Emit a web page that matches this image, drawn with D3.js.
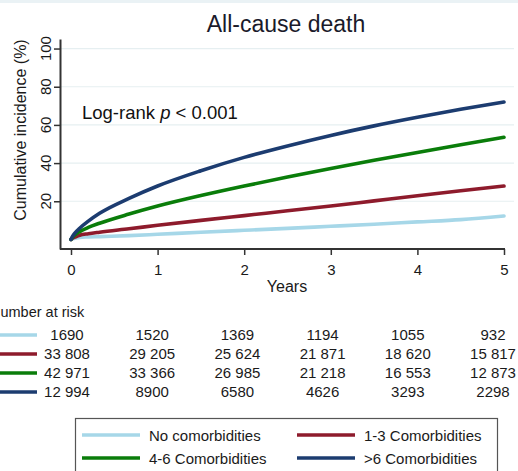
<!DOCTYPE html>
<html>
<head>
<meta charset="UTF-8">
<title>All-cause death</title>
<style>
  body { margin: 0; background: #fff; }
  svg { display: block; font-family: "Liberation Sans", Arial, sans-serif; }
</style>
</head>
<body>
<script src="https://d3js.org/d3.v7.min.js"></script>
<script>
// data
var years = [0, 0.03, 0.05, 0.1, 0.2, 0.33, 0.67, 1, 1.5, 2, 2.5, 3, 3.5, 4, 4.5, 5];
var noneInc = [0, 0.5, 0.7, 1.1, 1.3, 1.5, 2.0, 2.7, 3.8, 4.8, 5.8, 6.9, 8.0, 9.2, 10.4, 12.3];
var c13Inc  = [0, 0.9, 1.3, 2.2, 3.0, 3.8, 5.6, 7.4, 10.0, 12.5, 15.0, 17.5, 20.2, 22.9, 25.5, 28.0];
var c46Inc  = [0, 1.8, 2.6, 4.1, 6.3, 8.5, 13.3, 17.5, 23.0, 28.0, 32.7, 37.2, 41.5, 45.6, 49.6, 53.5];
var c6Inc   = [0, 2.4, 3.6, 5.9, 9.6, 13.7, 21.5, 28.0, 36.0, 43.0, 49.0, 54.5, 59.5, 64.0, 68.2, 72.0];

var riskYears = [0, 1, 2, 3, 4, 5];
var riskNone = [1690, 1520, 1369, 1194, 1055, 932];
var risk13   = [33808, 29205, 25624, 21871, 18620, 15817];
var risk46   = [42971, 33366, 26985, 21218, 16553, 12873];
var risk6    = [12994, 8900, 6580, 4626, 3293, 2298];

var groupNames = ["No comorbidities", "1-3 Comorbidities", "4-6 Comorbidities", ">6 Comorbidities"];
var groupColors = ["#a6d7e8", "#8e1b2c", "#0a7d0a", "#1c3c70"];
var xTicks = [0, 1, 2, 3, 4, 5];
var yTicks = [20, 40, 60, 80, 100];

var W = 518, H = 471;
var svg = d3.select("body").append("svg").attr("width", W).attr("height", H);

// faint strip along the top edge
svg.append("rect").attr("x", 0).attr("y", 0).attr("width", W).attr("height", 3).attr("fill", "#eaf2f5");

var x = d3.scaleLinear().domain([0, 5]).range([71, 504]);
var y = d3.scaleLinear().domain([-5, 105]).range([249, 39]);
var xRisk = d3.scaleLinear().domain([0, 5]).range([67, 493]);

// gridlines
svg.append("g").selectAll("line").data(yTicks).join("line")
  .attr("x1", 61).attr("x2", 514)
  .attr("y1", d => y(d)).attr("y2", d => y(d))
  .attr("stroke", "#e6eff1").attr("stroke-width", 1.2);

// y axis
var yAxis = svg.append("g").attr("transform", "translate(60,0)")
  .call(d3.axisLeft(y).tickValues(yTicks).tickSize(6).tickSizeOuter(0));
yAxis.select(".domain").attr("stroke", "#333").attr("stroke-width", 2);
yAxis.selectAll(".tick line").attr("stroke", "#333").attr("stroke-width", 1.5);
yAxis.selectAll(".tick text").remove();
svg.append("g").selectAll("text").data(yTicks).join("text")
  .attr("transform", d => "translate(51," + y(d) + ") rotate(-90)")
  .attr("text-anchor", "middle")
  .attr("font-size", 15).attr("fill", "#1a1a1a")
  .text(d => d);

// x axis
var xAxis = svg.append("g").attr("transform", "translate(0,249)")
  .call(d3.axisBottom(x).tickValues(xTicks).tickFormat(d3.format("d"))
    .tickSize(6).tickSizeOuter(0).tickPadding(9));
xAxis.select(".domain").attr("d", "M60,0H505").attr("stroke", "#333").attr("stroke-width", 2);
xAxis.selectAll(".tick line").attr("stroke", "#333").attr("stroke-width", 1.5);
xAxis.selectAll(".tick text").attr("font-size", 15).attr("fill", "#1a1a1a")
  .attr("font-family", "Liberation Sans, Arial, sans-serif");

// titles
svg.append("text").attr("x", 286).attr("y", 32).attr("text-anchor", "middle")
  .attr("font-size", 23).attr("fill", "#1a1a2a").text("All-cause death");
svg.append("text").attr("x", 287).attr("y", 292).attr("text-anchor", "middle")
  .attr("font-size", 16).attr("fill", "#1a1a1a").text("Years");
svg.append("text").attr("transform", "translate(26,130) rotate(-90)")
  .attr("text-anchor", "middle").attr("font-size", 16).attr("fill", "#1a1a1a")
  .text("Cumulative incidence (%)");

var lr = svg.append("text").attr("x", 82).attr("y", 119)
  .attr("font-size", 18.5).attr("fill", "#111");
lr.append("tspan").text("Log-rank ");
lr.append("tspan").attr("font-style", "italic").text("p");
lr.append("tspan").text(" < 0.001");

// curves
var series = [noneInc, c13Inc, c46Inc, c6Inc];
var line = d3.line()
  .x((d, i) => x(years[i]))
  .y(d => y(d))
  .curve(d3.curveMonotoneX);
svg.append("g").selectAll("path").data(series).join("path")
  .attr("d", line)
  .attr("fill", "none")
  .attr("stroke", (d, i) => groupColors[i])
  .attr("stroke-width", 3.6)
  .attr("stroke-linecap", "round");

// number at risk (the original image is cropped on the left)
svg.append("text").attr("x", -10).attr("y", 317)
  .attr("font-size", 14.5).attr("fill", "#1a1a1a").text("Number at risk");

function fmt(n) {
  if (n < 10000) return String(n);
  return d3.format(",")(n).replace(",", " ");
}
var riskRows = [riskNone, risk13, risk46, risk6];
var rowY = [340, 359, 378, 397];
riskRows.forEach(function (row, r) {
  svg.append("line").attr("x1", 0).attr("x2", 37)
    .attr("y1", rowY[r] - 5).attr("y2", rowY[r] - 5)
    .attr("stroke", groupColors[r]).attr("stroke-width", 3.5);
  svg.append("g").selectAll("text").data(row).join("text")
    .attr("x", (d, i) => xRisk(riskYears[i]))
    .attr("y", rowY[r])
    .attr("text-anchor", "middle")
    .attr("font-size", 15).attr("fill", "#1a1a1a")
    .text(d => fmt(d));
});

// legend
var legend = svg.append("g");
legend.append("rect").attr("x", 75.5).attr("y", 418.5).attr("width", 422).attr("height", 70)
  .attr("fill", "#fff").attr("stroke", "#555").attr("stroke-width", 1.2);
var legPos = [[82, 435], [297, 435], [82, 458], [297, 458]];
groupNames.forEach(function (name, i) {
  var p = legPos[i];
  legend.append("line").attr("x1", p[0]).attr("x2", p[0] + 58)
    .attr("y1", p[1]).attr("y2", p[1])
    .attr("stroke", groupColors[i]).attr("stroke-width", 3.5);
  legend.append("text").attr("x", p[0] + 67).attr("y", p[1] + 6)
    .attr("font-size", 15).attr("fill", "#1a1a1a").text(name);
});
</script>
</body>
</html>
